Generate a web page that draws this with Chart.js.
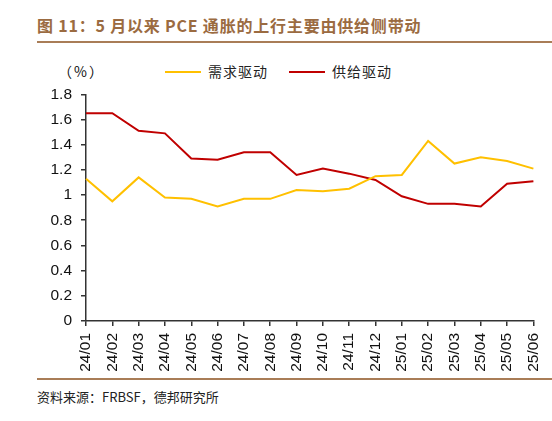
<!DOCTYPE html>
<html>
<head>
<meta charset="utf-8">
<script src="https://cdn.jsdelivr.net/npm/chart.js@4.4.1/dist/chart.umd.min.js"></script>
<style>
  body { margin: 0; background: #fff; width: 552px; height: 421px; position: relative; overflow: hidden; font-family: "Liberation Sans", Arial, sans-serif; }
  #title { position: absolute; left: 37px; top: 13px; font: bold 16px "Noto Sans CJK SC", "Liberation Sans", sans-serif; color: #9b6b41; letter-spacing: 0.8px; }
  .rule { position: absolute; left: 37px; width: 515px; height: 2px; background: #a97d57; }
  #unit { position: absolute; left: 58px; top: 61px; font: 14px "Noto Sans CJK SC", sans-serif; color: #111; letter-spacing: 2px; }
  #legend { position: absolute; left: 165px; top: 61px; font: 14px "Noto Sans CJK SC", sans-serif; color: #222; letter-spacing: 1px; }
  #legend span.item { position: absolute; white-space: nowrap; }
  #legend i { display: inline-block; width: 36px; height: 2px; vertical-align: middle; margin-right: 7px; position: relative; top: -1px; }
  #source { position: absolute; left: 37px; top: 387px; font: 13px "Noto Sans CJK SC", sans-serif; color: #222; }
  #clip { position: absolute; left: 0; top: 70px; width: 538px; height: 306px; overflow: hidden; }
  #wrap { position: absolute; left: 0; top: 6px; width: 559px; height: 300px; }
</style>
</head>
<body>
<div id="title">图 11：5 月以来 PCE 通胀的上行主要由供给侧带动</div>
<div class="rule" style="top:41px"></div>
<div id="unit">（%）</div>
<div id="legend"></div>
<div id="clip"><div id="wrap"><canvas id="chart"></canvas></div></div>
<div class="rule" style="top:378px"></div>
<div id="source">资料来源：FRBSF，德邦研究所</div>
<script>
const months = ['24/01', '24/02', '24/03', '24/04', '24/05', '24/06', '24/07', '24/08', '24/09',
  '24/10', '24/11', '24/12', '25/01', '25/02', '25/03', '25/04', '25/05', '25/06'];
const demandDriven = [1.13, 0.95, 1.14, 0.98, 0.97, 0.91, 0.97, 0.97, 1.04,
  1.03, 1.05, 1.15, 1.16, 1.43, 1.25, 1.30, 1.27, 1.21];
const supplyDriven = [1.65, 1.65, 1.51, 1.49, 1.29, 1.28, 1.34, 1.34, 1.16,
  1.21, 1.17, 1.12, 0.99, 0.93, 0.93, 0.91, 1.09, 1.11];
const seriesNames = ['需求驱动', '供给驱动'];
const seriesColors = ['#ffc000', '#c00000'];

// legend is plain html so it can sit on the same row as the unit label
let legend = document.getElementById('legend');
let offsets = [0, 124];
seriesNames.forEach((name, i) => {
  let item = document.createElement('span');
  item.className = 'item';
  item.style.left = offsets[i] + 'px';
  item.innerHTML = '<i style="background:' + seriesColors[i] + '"></i>' + name;
  legend.appendChild(item);
});

const axisColor = '#333';
const tickFont = {family: '"Liberation Sans", Arial, sans-serif', size: 15.5};

new Chart(document.getElementById('chart'), {
  type: 'line',
  data: {
    labels: months,
    datasets: [{
      label: seriesNames[0],
      data: demandDriven,
      borderColor: seriesColors[0],
      borderWidth: 2,
      pointRadius: 0,
      tension: 0,
      fill: false,
    },
    {
      label: seriesNames[1],
      data: supplyDriven,
      borderColor: seriesColors[1],
      borderWidth: 2,
      pointRadius: 0,
      tension: 0,
      fill: false,
    }],
  },
  options: {
    responsive: true,
    maintainAspectRatio: false,
    animation: false,
    layout: {padding: {top: 3, right: 0, left: 0, bottom: 0}},
    plugins: {
      legend: {display: false},
      tooltip: {enabled: false},
    },
    scales: {
      x: {
        offset: false,
        afterFit: (scale) => { scale.height = 55; },
        grid: {display: true, drawOnChartArea: false, drawTicks: true, tickLength: 5, color: axisColor, lineWidth: 1.5},
        border: {display: true, color: axisColor, width: 1.5},
        ticks: {autoSkip: false, maxRotation: 90, minRotation: 90, color: '#111', font: tickFont, padding: 7},
      },
      y: {
        min: 0,
        max: 1.8,
        afterFit: (scale) => { scale.width = 86; },
        grid: {display: true, drawOnChartArea: false, drawTicks: true, tickLength: 5, color: axisColor, lineWidth: 1.5},
        border: {display: true, color: axisColor, width: 1.5},
        ticks: {
          stepSize: 0.2,
          color: '#111',
          font: tickFont,
          padding: 9,
          callback: (v) => Math.round(v * 10) / 10,
        },
      },
    },
  },
});
</script>
</body>
</html>
